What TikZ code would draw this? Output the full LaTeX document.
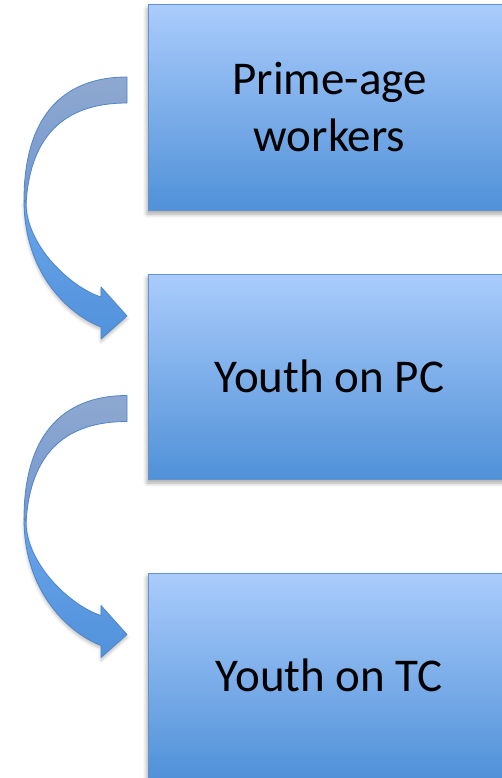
\documentclass[tikz,border=0pt]{standalone}
\usepackage{fontspec}
\setmainfont{Carlito}
\usetikzlibrary{shadows.blur}

\definecolor{boxtop}{RGB}{170,204,252}
\definecolor{boxbot}{RGB}{80,145,216}
\definecolor{boxline}{RGB}{100,146,204}
\definecolor{backtop}{RGB}{142,168,208}
\definecolor{backbot}{RGB}{116,152,208}
\definecolor{fronttop}{RGB}{104,164,234}
\definecolor{frontbot}{RGB}{82,146,220}
\definecolor{arrline}{RGB}{80,134,198}

\tikzset{
  stagebox/.style={draw=boxline, line width=1pt,
    top color=boxtop, bottom color=boxbot,
    minimum width=363pt, minimum height=205pt, inner sep=0pt,
    font=\fontsize{47}{57}\selectfont, align=center,
    blur shadow={shadow xshift=-1pt, shadow yshift=-4pt,
      shadow blur radius=4pt, shadow opacity=35}},
  bandback/.style={draw=arrline, line width=0.8pt, line join=round,
    top color=backtop, bottom color=backbot},
  bandfront/.style={draw=arrline, line width=0.8pt, line join=round,
    top color=fronttop, bottom color=frontbot,
    blur shadow={shadow xshift=0pt, shadow yshift=-3pt,
      shadow blur radius=3pt, shadow opacity=25}},
  % curved right arrow: origin at the middle of the tail end
  pics/curvedarrow/.style={code={
    \path[bandback]
      (0,-13) .. controls (-67,-13) and (-103,30) .. (-103,110)
      -- (-101,115) .. controls (-97,40) and (-57,13) .. (0,13) -- cycle;
    \path[bandfront]
      (-103,110) .. controls (-103,185) and (-57,225) .. (-26,237)
      -- (-26,249) -- (0,226) -- (-26,197) -- (-26,207)
      .. controls (-57,197) and (-101,155) .. (-101,113) -- cycle;
  }}
}

\begin{document}
\begin{tikzpicture}[x=1pt, y={(0pt,-1pt)}]
  \useasboundingbox (0,0) rectangle (502,778);

  \node[stagebox] (prime) at (329.5,107.5) {Prime-age\\workers};
  \node[stagebox] (pc)    at (329.5,376.5) {Youth on PC};
  \node[stagebox] (tc)    at (329.5,675.5) {Youth on TC};

  \coordinate (arrA) at (127,90);
  \coordinate (arrB) at (127,408.5);
  \pic at (arrA) {curvedarrow};
  \pic at (arrB) {curvedarrow};
\end{tikzpicture}
\end{document}
